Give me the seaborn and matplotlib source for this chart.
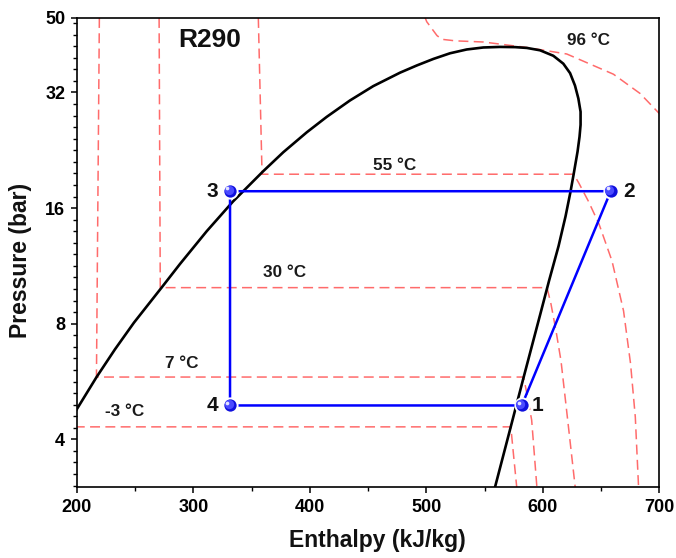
import numpy as np
import pandas as pd
import matplotlib
matplotlib.use("Agg")
import matplotlib.pyplot as plt
import matplotlib.ticker as mticker
from matplotlib.transforms import offset_copy
import seaborn as sns

# ---------------- data ----------------
# saturation dome: enthalpy (kJ/kg), pressure (bar)
dome_h = [195.7, 200.0, 216.8, 232.6, 248.9, 272.6, 288.4, 311.4, 334.0, 360.0,
          377.2, 397.3, 414.4, 434.4, 454.4, 477.4, 491.7, 506.0, 520.3, 534.6,
          548.9, 563.2, 576.1, 586.2, 597.6, 609.0, 617.6, 623.4, 627.6, 630.5,
          632.4, 632.4, 631.5, 629.8, 626.4, 623.8, 619.5, 613.5, 605.3, 597.9,
          583.5, 577.3, 571.3, 558.9]
dome_p = [4.57, 4.80, 5.81, 6.86, 8.05, 9.93, 11.44, 13.93, 16.65, 19.97,
          22.37, 25.2, 27.64, 30.5, 33.24, 36.03, 37.61, 39.12, 40.47, 41.40,
          41.9, 42.04, 41.99, 41.79, 41.2, 39.87, 38.02, 35.92, 33.35, 30.86,
          28.5, 26.35, 24.53, 22.44, 19.56, 17.68, 15.23, 12.74, 10.34, 8.49,
          5.80, 4.91, 4.18, 3.0]

# isotherms
iso_m3_h = [185.0, 572.5, 575.0, 577.6]
iso_m3_p = [4.31, 4.31, 3.60, 3.0]

iso_7_h = [219.2, 216.7, 583.5, 586.3, 590.4, 594.9]
iso_7_p = [50.0, 5.81, 5.81, 5.26, 4.49, 3.0]

iso_30_h = [270.5, 271.5, 603.6, 607.0, 611.2, 615.6, 619.6, 623.6, 627.8]
iso_30_p = [50.0, 9.93, 9.93, 9.0, 7.7, 6.4, 5.0, 3.9, 3.0]

iso_55_h = [355.7, 358.9, 626.5, 631.1, 639.2, 648.3, 659.4, 669.3, 675.3, 679.4, 682.2]
iso_55_p = [50.0, 19.6, 19.6, 18.54, 16.65, 14.52, 11.65, 8.64, 6.30, 4.57, 3.0]

iso_96_h = [498.5, 500.3, 509.1, 513.4, 525.0, 548.9, 586.2, 620.5, 660.6, 683.5, 700.0, 705.0]
iso_96_p = [50.5, 48.9, 45.0, 44.0, 43.6, 43.3, 41.9, 40.3, 35.7, 31.8, 28.2, 27.3]

iso_labels = ["-3 °C", "7 °C", "30 °C", "55 °C", "96 °C"]
iso_label_h = [240.5, 289.9, 377.8, 473.1, 639.1]
iso_label_p = [4.72, 6.29, 10.86, 20.7, 43.6]

# refrigeration cycle state points
cycle_names = ["1", "2", "3", "4"]
cycle_h = [581.9, 658.3, 331.4, 331.4]
cycle_p = [4.90, 17.7, 17.7, 4.90]
cycle_path = [2, 1, 0, 3, 2]          # 3 -> 2 -> 1 -> 4 -> 3
name_offsets = [11.5, 13.0, -13.0, -13.0]  # label offset in points

refrigerant = "R290"
refrigerant_h, refrigerant_p = 314.2, 43.7

x_ticks = [200, 300, 400, 500, 600, 700]
y_ticks = [4, 8, 16, 32, 50]

# ---------------- style ----------------
sns.set_theme(style="ticks")
plt.rcParams["font.family"] = ["Liberation Sans", "DejaVu Sans"]
plt.rcParams["font.weight"] = "bold"

fig = plt.figure(figsize=(6.76, 5.58), dpi=100)
ax = fig.add_axes([77 / 676, 1 - 487.3 / 558, (659.3 - 77) / 676, (487.3 - 18) / 558])

red = "#ff6b6b"
dash = (6.5, 3.5)

isos = [(iso_m3_h, iso_m3_p), (iso_7_h, iso_7_p), (iso_30_h, iso_30_p),
        (iso_55_h, iso_55_p), (iso_96_h, iso_96_p)]
for hh, pp in isos:
    d = pd.DataFrame({"h": hh, "p": pp})
    sns.lineplot(data=d, x="h", y="p", sort=False, estimator=None, ax=ax,
                 color=red, linewidth=1.1, dashes=False, zorder=1)
    ax.lines[-1].set_dashes(dash)

dome = pd.DataFrame({"h": dome_h, "p": dome_p})
sns.lineplot(data=dome, x="h", y="p", sort=False, estimator=None, ax=ax,
             color="black", linewidth=1.9, zorder=2)

cyc = pd.DataFrame({"h": [cycle_h[i] for i in cycle_path],
                    "p": [cycle_p[i] for i in cycle_path]})
sns.lineplot(data=cyc, x="h", y="p", sort=False, estimator=None, ax=ax,
             color="#0000ff", linewidth=1.8, zorder=3)

pts = pd.DataFrame({"h": cycle_h, "p": cycle_p})
sns.scatterplot(data=pts, x="h", y="p", ax=ax, s=105, color="#1010dd",
                edgecolor="white", linewidth=1.4, zorder=5)
hl1 = offset_copy(ax.transData, fig=fig, x=-1.0, y=1.0, units="points")
ax.scatter(cycle_h, cycle_p, s=45, color="#4a4aff", linewidth=0, zorder=6, transform=hl1)
hl2 = offset_copy(ax.transData, fig=fig, x=-2.0, y=2.0, units="points")
ax.scatter(cycle_h, cycle_p, s=7, color="white", alpha=0.85, linewidth=0, zorder=7, transform=hl2)

for name, hx, px, off in zip(cycle_names, cycle_h, cycle_p, name_offsets):
    ax.annotate(name, (hx, px), xytext=(off, 0), textcoords="offset points",
                ha="center", va="center", fontsize=15, fontweight="bold", color="#111111", zorder=8)

for lab, hx, px in zip(iso_labels, iso_label_h, iso_label_p):
    ax.text(hx, px, lab, ha="center", va="center", fontsize=12.3, fontweight="bold", color="#1a1a1a")

ax.text(refrigerant_h, refrigerant_p, refrigerant, ha="center", va="center",
        fontsize=19, fontweight="bold", color="#111111")

# ---------------- axes ----------------
ax.set_yscale("log", base=2)
ax.set_xlim(200, 700)
ax.set_ylim(3.0, 50)
ax.set_xticks(x_ticks)
ax.set_xticklabels([str(t) for t in x_ticks])
ax.xaxis.set_minor_locator(mticker.MultipleLocator(50))
ax.yaxis.set_major_locator(mticker.FixedLocator(y_ticks))
ax.yaxis.set_major_formatter(mticker.FixedFormatter([str(t) for t in y_ticks]))
ax.yaxis.set_minor_locator(mticker.LogLocator(base=2, subs=2 ** (np.arange(1, 10) / 10), numticks=20))
ax.yaxis.set_minor_formatter(mticker.NullFormatter())

ax.tick_params(axis="both", which="major", direction="out", length=4.5, width=1.1,
               labelsize=13, pad=4, color="black", labelcolor="black")
ax.tick_params(axis="both", which="minor", direction="out", length=3.0, width=1.0, color="black")
ax.tick_params(top=False, right=False, which="both")
for lab in ax.get_xticklabels() + ax.get_yticklabels():
    lab.set_fontweight("bold")

for s in ax.spines.values():
    s.set_visible(True)
    s.set_linewidth(1.2)
    s.set_color("black")
ax.grid(False)

ax.set_xlabel("Enthalpy (kJ/kg)", fontsize=16.5, fontweight="bold", color="#111111")
ax.set_ylabel("Pressure (bar)", fontsize=16.5, fontweight="bold", color="#111111")
ax.xaxis.label.set_va("center")
ax.yaxis.label.set_va("center")
ax.xaxis.set_label_coords(0.516, -(541 - 487.3) / 469.3)
ax.yaxis.set_label_coords(-(77 - 21) / 582.3, (487.3 - 260) / 469.3)

fig.savefig("out.png", dpi=100)
